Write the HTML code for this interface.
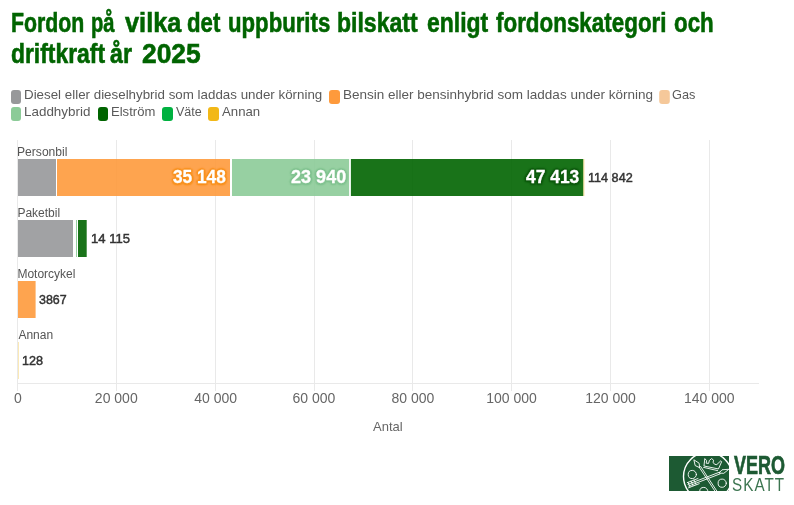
<!DOCTYPE html>
<html><head><meta charset="utf-8"><style>
html,body{margin:0;padding:0;background:#fff;}
body{width:794px;height:505px;position:relative;overflow:hidden;font-family:"Liberation Sans",sans-serif;-webkit-font-smoothing:antialiased;}
.t{position:absolute;white-space:nowrap;transform-origin:0 0;}
#w{position:absolute;left:0;top:0;width:794px;height:505px;will-change:transform;}
svg.c{position:absolute;left:0;top:0;}
</style></head><body>
<svg class="c" width="794" height="505" viewBox="0 0 794 505">
<rect x="17" y="140" width="1" height="251" fill="#e9e9e9"/>
<rect x="116" y="140" width="1" height="251" fill="#e9e9e9"/>
<rect x="215" y="140" width="1" height="251" fill="#e9e9e9"/>
<rect x="314" y="140" width="1" height="251" fill="#e9e9e9"/>
<rect x="412" y="140" width="1" height="251" fill="#e9e9e9"/>
<rect x="511" y="140" width="1" height="251" fill="#e9e9e9"/>
<rect x="610" y="140" width="1" height="251" fill="#e9e9e9"/>
<rect x="709" y="140" width="1" height="251" fill="#e9e9e9"/>
<rect x="17" y="383" width="742" height="1" fill="#e9e9e9"/>
<rect x="18" y="159" width="38.00" height="37" fill="#97989a" fill-opacity="0.9"/>
<rect x="57" y="159" width="173.00" height="37" fill="#fe9a3c" fill-opacity="0.9"/>
<rect x="232" y="159" width="117.00" height="37" fill="#8ccb98" fill-opacity="0.9"/>
<rect x="349.9" y="159" width="0.35" height="37" fill="#8ccb98" fill-opacity="0.9"/>
<rect x="351" y="159" width="232.30" height="37" fill="#006400" fill-opacity="0.9"/>
<rect x="583.7" y="159" width="0.50" height="37" fill="#f2b817" fill-opacity="0.9"/>
<rect x="18" y="220" width="55.00" height="37" fill="#97989a" fill-opacity="0.9"/>
<rect x="76" y="220" width="1.00" height="37" fill="#8ccb98" fill-opacity="0.9"/>
<rect x="78" y="220" width="8.70" height="37" fill="#006400" fill-opacity="0.9"/>
<rect x="18" y="281" width="17.60" height="37" fill="#fe9a3c" fill-opacity="0.9"/>
<rect x="18" y="342" width="0.35" height="37" fill="#f2b817" fill-opacity="0.9"/>
<rect x="11" y="90" width="10" height="14" rx="3" fill="#97989a"/>
<rect x="329" y="90" width="11" height="14" rx="3" fill="#fe9a3c"/>
<rect x="659.2" y="90" width="10.599999999999909" height="14" rx="3" fill="#f5c89a"/>
<rect x="11" y="107" width="10" height="14" rx="3" fill="#8ccb98"/>
<rect x="98" y="107" width="10" height="14" rx="3" fill="#006400"/>
<rect x="162" y="107" width="11" height="14" rx="3" fill="#00b140"/>
<rect x="208" y="107" width="11" height="14" rx="3" fill="#f2b817"/>
<svg x="669" y="456" width="60" height="35" viewBox="669 456 60 35" overflow="hidden">
<rect x="669" y="456" width="60" height="35" fill="#1d5a33"/>
<g fill="none" stroke="#fff" stroke-width="0.9" stroke-linecap="round" stroke-linejoin="round">
<circle cx="707.8" cy="476.6" r="24.3" stroke-width="1.4"/>
<circle cx="692.3" cy="474.5" r="4.1"/>
<circle cx="722.2" cy="483.2" r="4.1"/>
<circle cx="703.8" cy="491.5" r="4.1"/>
<path d="M694.2 460 L699.1 463.2 L699.7 467.7 L695.5 465.7 Z"/>
<path d="M699.2 467.2 L715.2 491.5 M700.6 466.4 L716.8 491"/>
<path d="M728.4 469.3 L722 469.8 L719 473.1 L723.4 473.3 Z"/>
<path d="M719.4 472.2 L688 484.3 M720.2 473.8 L688.8 486"/>
<path d="M687.3 482.6 L698 478.5 M688.5 487.8 L699.2 483.7 M688 482.4 L690 486.8 M691 481.2 L693 485.6 M694 480 L696 484.4"/>
<path d="M704 465.6 L704.8 458.6 L706.6 460.6 L706.2 463.2 L708.6 463.4 L709.4 460.4 L711.6 458.6 L713.6 460.2 L713 462.6 L715 464.4 L716.8 464.6 L720.8 460.8 L721.6 461.8 L718.6 468.6 Z"/>
<path d="M703.6 467.4 L717.6 470.6"/>
</g></svg>
</svg>
<div id="w">
<div class="t" style="left:10.61px;top:8.00px;font-size:28.5px;line-height:28.5px;font-weight:700;color:#006400;transform:scaleX(0.7474);-webkit-text-stroke:0.6px #006400;">Fordon</div>
<div class="t" style="left:90.78px;top:8.00px;font-size:28.5px;line-height:28.5px;font-weight:700;color:#006400;transform:scaleX(0.7094);-webkit-text-stroke:0.6px #006400;">på</div>
<div class="t" style="left:124.50px;top:8.00px;font-size:28.5px;line-height:28.5px;font-weight:700;color:#006400;transform:scaleX(0.8891);-webkit-text-stroke:0.6px #006400;">vilka</div>
<div class="t" style="left:186.82px;top:8.00px;font-size:28.5px;line-height:28.5px;font-weight:700;color:#006400;transform:scaleX(0.7786);-webkit-text-stroke:0.6px #006400;">det</div>
<div class="t" style="left:227.54px;top:8.00px;font-size:28.5px;line-height:28.5px;font-weight:700;color:#006400;transform:scaleX(0.7781);-webkit-text-stroke:0.6px #006400;">uppburits</div>
<div class="t" style="left:336.88px;top:8.00px;font-size:28.5px;line-height:28.5px;font-weight:700;color:#006400;transform:scaleX(0.8082);-webkit-text-stroke:0.6px #006400;">bilskatt</div>
<div class="t" style="left:426.59px;top:8.00px;font-size:28.5px;line-height:28.5px;font-weight:700;color:#006400;transform:scaleX(0.8053);-webkit-text-stroke:0.6px #006400;">enligt</div>
<div class="t" style="left:495.80px;top:8.00px;font-size:28.5px;line-height:28.5px;font-weight:700;color:#006400;transform:scaleX(0.7860);-webkit-text-stroke:0.6px #006400;">fordonskategori</div>
<div class="t" style="left:674.12px;top:8.00px;font-size:28.5px;line-height:28.5px;font-weight:700;color:#006400;transform:scaleX(0.7833);-webkit-text-stroke:0.6px #006400;">och</div>
<div class="t" style="left:11.10px;top:38.80px;font-size:28.5px;line-height:28.5px;font-weight:700;color:#006400;transform:scaleX(0.8026);-webkit-text-stroke:0.6px #006400;">driftkraft</div>
<div class="t" style="left:110.18px;top:38.80px;font-size:28.5px;line-height:28.5px;font-weight:700;color:#006400;transform:scaleX(0.8154);-webkit-text-stroke:0.6px #006400;">år</div>
<div class="t" style="left:141.87px;top:38.80px;font-size:28.5px;line-height:28.5px;font-weight:700;color:#006400;transform:scaleX(0.9258);-webkit-text-stroke:0.6px #006400;">2025</div>
<div class="t" style="left:24.21px;top:88.00px;font-size:13.5px;line-height:13.5px;font-weight:400;color:#5a5a5a;transform:scaleX(0.9887);">Diesel eller dieselhybrid som laddas under körning</div>
<div class="t" style="left:343.00px;top:88.00px;font-size:13.5px;line-height:13.5px;font-weight:400;color:#5a5a5a;">Bensin eller bensinhybrid som laddas under körning</div>
<div class="t" style="left:671.86px;top:88.00px;font-size:13.5px;line-height:13.5px;font-weight:400;color:#5a5a5a;transform:scaleX(0.9435);">Gas</div>
<div class="t" style="left:24.21px;top:105.00px;font-size:13.5px;line-height:13.5px;font-weight:400;color:#5a5a5a;transform:scaleX(0.9938);">Laddhybrid</div>
<div class="t" style="left:110.73px;top:105.00px;font-size:13.5px;line-height:13.5px;font-weight:400;color:#5a5a5a;transform:scaleX(0.9682);">Elström</div>
<div class="t" style="left:175.90px;top:105.00px;font-size:13.5px;line-height:13.5px;font-weight:400;color:#5a5a5a;transform:scaleX(0.9259);">Väte</div>
<div class="t" style="left:222.30px;top:105.00px;font-size:13.5px;line-height:13.5px;font-weight:400;color:#5a5a5a;transform:scaleX(0.9789);">Annan</div>
<div class="t" style="left:17.39px;top:146.00px;font-size:12px;line-height:12px;font-weight:400;color:#555;transform:scaleX(1.0083);">Personbil</div>
<div class="t" style="left:17.40px;top:207.00px;font-size:12px;line-height:12px;font-weight:400;color:#555;">Paketbil</div>
<div class="t" style="left:17.40px;top:268.00px;font-size:12px;line-height:12px;font-weight:400;color:#555;">Motorcykel</div>
<div class="t" style="left:18.40px;top:329.00px;font-size:12px;line-height:12px;font-weight:400;color:#555;">Annan</div>
<div class="t" style="left:173.10px;top:168.10px;font-size:18px;line-height:18px;font-weight:700;color:#fff;transform:scaleX(0.9582);text-shadow:2px 0px 1.5px #f8911f,-2px 0px 1.5px #f8911f,0px 2px 1.5px #f8911f,0px -2px 1.5px #f8911f,1.5px 1.5px 1.5px #f8911f,-1.5px 1.5px 1.5px #f8911f,1.5px -1.5px 1.5px #f8911f,-1.5px -1.5px 1.5px #f8911f;-webkit-text-stroke:0.3px #fff;">35 148</div>
<div class="t" style="left:291.10px;top:168.10px;font-size:18px;line-height:18px;font-weight:700;color:#fff;text-shadow:2px 0px 1.5px #80c290,-2px 0px 1.5px #80c290,0px 2px 1.5px #80c290,0px -2px 1.5px #80c290,1.5px 1.5px 1.5px #80c290,-1.5px 1.5px 1.5px #80c290,1.5px -1.5px 1.5px #80c290,-1.5px -1.5px 1.5px #80c290;-webkit-text-stroke:0.3px #fff;">23 940</div>
<div class="t" style="left:525.60px;top:168.10px;font-size:18px;line-height:18px;font-weight:700;color:#fff;transform:scaleX(0.9673);text-shadow:2px 0px 1.5px #0e5a0e,-2px 0px 1.5px #0e5a0e,0px 2px 1.5px #0e5a0e,0px -2px 1.5px #0e5a0e,1.5px 1.5px 1.5px #0e5a0e,-1.5px 1.5px 1.5px #0e5a0e,1.5px -1.5px 1.5px #0e5a0e,-1.5px -1.5px 1.5px #0e5a0e;-webkit-text-stroke:0.3px #fff;">47 413</div>
<div class="t" style="left:588.39px;top:172.00px;font-size:12.5px;line-height:12.5px;font-weight:400;color:#333;transform:scaleX(1.0093);-webkit-text-stroke:0.45px #333;">114 842</div>
<div class="t" style="left:90.79px;top:232.00px;font-size:13px;line-height:13px;font-weight:400;color:#333;transform:scaleX(1.0054);-webkit-text-stroke:0.45px #333;">14 115</div>
<div class="t" style="left:39.44px;top:293.00px;font-size:13px;line-height:13px;font-weight:400;color:#333;transform:scaleX(0.9571);-webkit-text-stroke:0.45px #333;">3867</div>
<div class="t" style="left:21.93px;top:354.00px;font-size:13px;line-height:13px;font-weight:400;color:#333;transform:scaleX(0.9700);-webkit-text-stroke:0.45px #333;">128</div>
<div class="t" style="left:14.00px;top:391.00px;font-size:14px;line-height:14px;font-weight:400;color:#666;">0</div>
<div class="t" style="left:94.86px;top:391.00px;font-size:14px;line-height:14px;font-weight:400;color:#666;">20 000</div>
<div class="t" style="left:194.22px;top:391.00px;font-size:14px;line-height:14px;font-weight:400;color:#666;">40 000</div>
<div class="t" style="left:292.58px;top:391.00px;font-size:14px;line-height:14px;font-weight:400;color:#666;">60 000</div>
<div class="t" style="left:391.44px;top:391.00px;font-size:14px;line-height:14px;font-weight:400;color:#666;">80 000</div>
<div class="t" style="left:486.30px;top:391.00px;font-size:14px;line-height:14px;font-weight:400;color:#666;">100 000</div>
<div class="t" style="left:585.16px;top:391.00px;font-size:14px;line-height:14px;font-weight:400;color:#666;">120 000</div>
<div class="t" style="left:684.02px;top:391.00px;font-size:14px;line-height:14px;font-weight:400;color:#666;">140 000</div>
<div class="t" style="left:373.30px;top:420.00px;font-size:13.5px;line-height:13.5px;font-weight:400;color:#666;transform:scaleX(0.9633);">Antal</div>
<div class="t" style="left:733.50px;top:452.20px;font-size:26px;line-height:26px;font-weight:700;color:#1d5a33;transform:scaleX(0.6918);-webkit-text-stroke:0.7px #1d5a33;">VERO</div>
<div class="t" style="left:732.34px;top:476.50px;font-size:17.7px;line-height:17.7px;font-weight:400;color:#3c7550;letter-spacing:1.2px;transform:scaleX(0.8610);">SKATT</div>
</div>
</body></html>
